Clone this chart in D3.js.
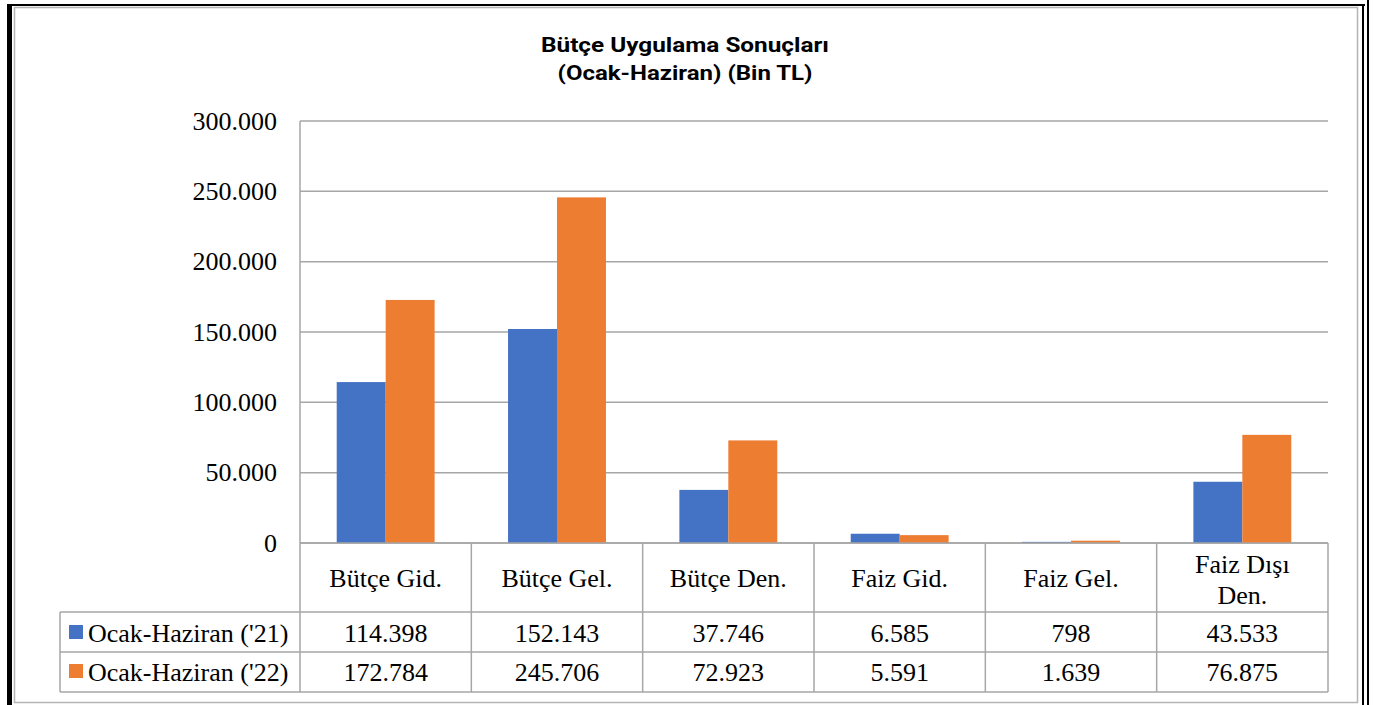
<!DOCTYPE html>
<html lang="tr">
<head>
<meta charset="UTF-8">
<title>Bütçe Uygulama Sonuçları</title>
<script src="https://d3js.org/d3.v7.min.js"></script>
<style>
  html, body { margin: 0; padding: 0; background: #fff; }
  svg { display: block; }
  .serif { font-family: "Liberation Serif", "Times New Roman", serif; font-size: 26px; fill: #000; }
</style>
</head>
<body>
<svg id="chart" width="1373" height="705"></svg>
<script>
// data (Bin TL)
const categories = [["Bütçe Gid."], ["Bütçe Gel."], ["Bütçe Den."], ["Faiz Gid."], ["Faiz Gel."], ["Faiz Dışı", "Den."]];
const seriesNames = ["Ocak-Haziran ('21)", "Ocak-Haziran ('22)"];
const values21 = [114398, 152143, 37746, 6585, 798, 43533];
const values22 = [172784, 245706, 72923, 5591, 1639, 76875];
const yTicks = [0, 50000, 100000, 150000, 200000, 250000, 300000];
const colors = ["#4472C4", "#ED7D31"];

const series = [values21, values22];
const fmt = d3.formatLocale({ decimal: ",", thousands: ".", grouping: [3], currency: ["", ""] }).format(",d");

const svg = d3.select("#chart");
const plotLeft = 300, plotRight = 1328, plotTop = 121, zeroY = 543;
const legendLeft = 60, row1 = 612, row2 = 652, tableBottom = 692;
const grey = "#a6a6a6";

// frame
svg.append("rect").attr("x", 7).attr("y", 4).attr("width", 1358).attr("height", 2).attr("fill", "#000");
svg.append("rect").attr("x", 7).attr("y", 4).attr("width", 5).attr("height", 705).attr("fill", "#000");
svg.append("rect").attr("x", 1362).attr("y", 4).attr("width", 2).attr("height", 705).attr("fill", "#000");
svg.append("rect").attr("x", 1367).attr("y", 0).attr("width", 2).attr("height", 705).attr("fill", "#000");
svg.append("rect").attr("x", 14.5).attr("y", 7.5).attr("width", 1343).attr("height", 695)
  .attr("fill", "none").attr("stroke", "#b4b4b4").attr("stroke-width", 1.5);

// title
const title = svg.append("g").attr("font-family", "Roboto, 'DejaVu Sans', sans-serif")
  .attr("font-weight", 700).attr("font-size", 21).attr("text-anchor", "middle");
title.append("text").attr("x", 685).attr("y", 52).attr("textLength", 288)
  .attr("lengthAdjust", "spacingAndGlyphs").text("Bütçe Uygulama Sonuçları");
title.append("text").attr("x", 685).attr("y", 80).attr("textLength", 255)
  .attr("lengthAdjust", "spacingAndGlyphs").text("(Ocak-Haziran) (Bin TL)");

// scales
const x0 = d3.scaleBand().domain(d3.range(categories.length)).range([plotLeft, plotRight]).padding(0);
const x1 = d3.scaleBand().domain(d3.range(series.length)).range([0, x0.bandwidth()])
  .paddingInner(0).paddingOuter(0.75);
const y = d3.scaleLinear().domain([0, 300000]).range([zeroY, plotTop]);

// gridlines
svg.append("g").selectAll("line").data(yTicks).join("line")
  .attr("x1", plotLeft).attr("x2", plotRight)
  .attr("y1", d => y(d)).attr("y2", d => y(d))
  .attr("stroke", grey).attr("stroke-width", 1.5);

// y axis labels
const yAxis = svg.append("g").attr("transform", `translate(${plotLeft},0)`)
  .call(d3.axisLeft(y).tickValues(yTicks).tickFormat(fmt).tickSize(0).tickPadding(23));
yAxis.select(".domain").remove();
yAxis.attr("font-size", null).attr("font-family", null);
yAxis.selectAll("text").attr("class", "serif").attr("fill", null).attr("dy", "0.31em");

// bars
series.forEach((vals, s) => {
  svg.append("g").selectAll("rect").data(vals).join("rect")
    .attr("x", (d, i) => x0(i) + x1(s))
    .attr("width", x1.bandwidth())
    .attr("y", d => y(d))
    .attr("height", d => y(0) - y(d))
    .attr("fill", colors[s]);
});

// data table lines
const tbl = svg.append("g").attr("stroke", grey).attr("stroke-width", 1.5);
tbl.append("line").attr("x1", plotLeft).attr("x2", plotRight).attr("y1", zeroY).attr("y2", zeroY);
[row1, row2, tableBottom].forEach(yy => {
  tbl.append("line").attr("x1", legendLeft).attr("x2", plotRight).attr("y1", yy).attr("y2", yy);
});
tbl.append("line").attr("x1", legendLeft).attr("x2", legendLeft).attr("y1", row1).attr("y2", tableBottom);
tbl.append("line").attr("x1", plotLeft).attr("x2", plotLeft).attr("y1", plotTop).attr("y2", tableBottom);
d3.range(1, categories.length + 1).forEach(i => {
  const xx = i === categories.length ? plotRight : x0(i);
  tbl.append("line").attr("x1", xx).attr("x2", xx).attr("y1", zeroY).attr("y2", tableBottom);
});

// category labels
const catG = svg.append("g").attr("text-anchor", "middle");
categories.forEach((lines, i) => {
  const cx = x0(i) + x0.bandwidth() / 2;
  const t = catG.append("text").attr("class", "serif");
  const startY = lines.length === 1 ? 587 : 573;
  lines.forEach((ln, k) => {
    t.append("tspan").attr("x", cx).attr("y", startY + k * 31).text(ln);
  });
});

// legend + values
const rowBase = [642, 681];
series.forEach((vals, s) => {
  svg.append("rect").attr("x", 69).attr("y", rowBase[s] - 17).attr("width", 14).attr("height", 14)
    .attr("fill", colors[s]);
  svg.append("text").attr("class", "serif").attr("x", 88).attr("y", rowBase[s]).text(seriesNames[s]);
  svg.append("g").selectAll("text").data(vals).join("text")
    .attr("class", "serif").attr("text-anchor", "middle")
    .attr("x", (d, i) => x0(i) + x0.bandwidth() / 2)
    .attr("y", rowBase[s])
    .text(d => fmt(d));
});
</script>
</body>
</html>
